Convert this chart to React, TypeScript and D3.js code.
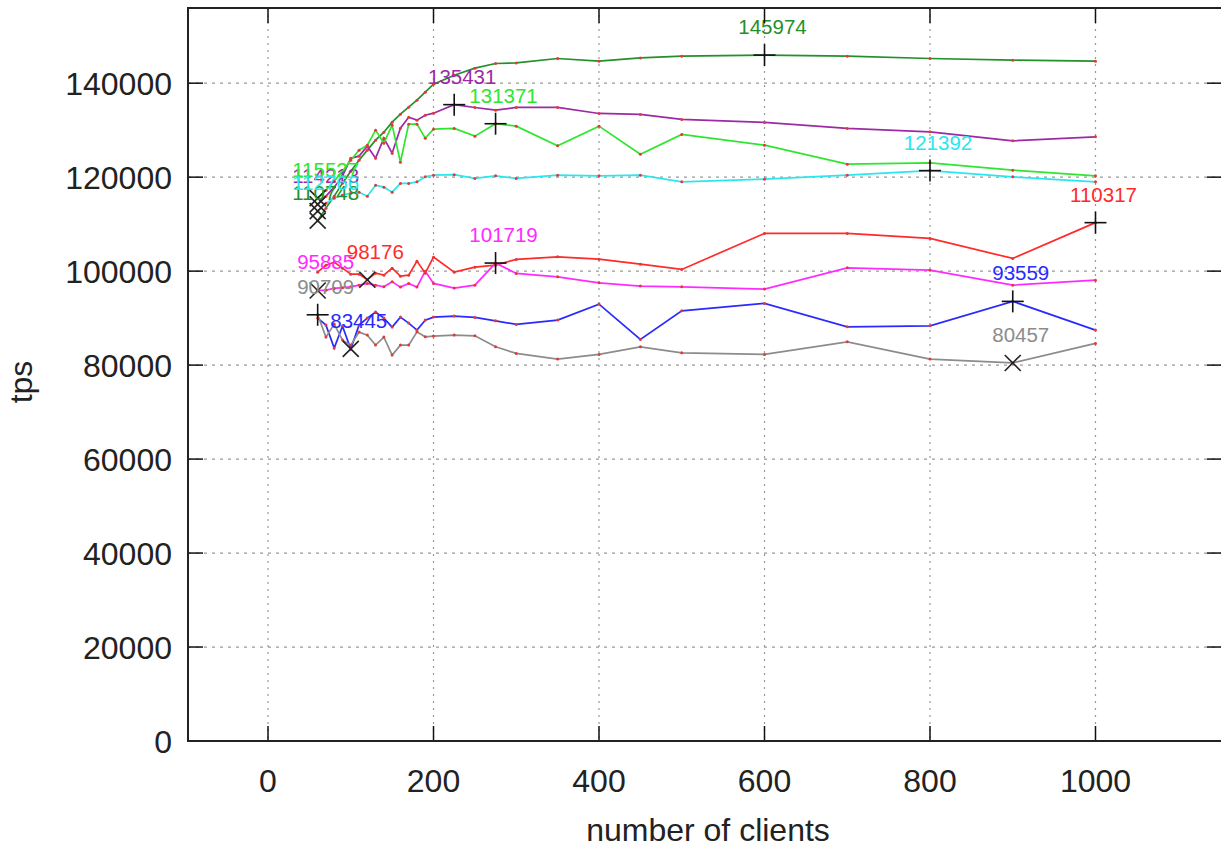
import React from "react";
import * as d3 from "d3";

const clients = [60, 70, 80, 90, 100, 110, 120, 130, 140, 150, 160, 170, 180, 190, 200, 225, 250, 275, 300, 350, 400, 450, 500, 600, 700, 800, 900, 1000];

const tpsDarkGreen = [110748, 113404, 115957, 118723, 121277, 123617, 125745, 127872, 129574, 131702, 133404, 134894, 136383, 138085, 139787, 141702, 143191, 144191, 144319, 145255, 144681, 145383, 145745, 145974, 145745, 145255, 144894, 144681];
const tpsPurple = [114213, 115957, 117872, 120213, 124043, 124468, 126596, 124043, 128298, 125106, 130426, 132766, 132128, 133191, 133617, 135431, 134830, 134255, 134830, 134830, 133553, 133340, 132277, 131638, 130362, 129638, 127723, 128574];
const tpsGreen = [115527, 117234, 119149, 121277, 123617, 125745, 126809, 130000, 127234, 131064, 123191, 131277, 131277, 128298, 130213, 130362, 128723, 131371, 130851, 126660, 130851, 124894, 129085, 126809, 122766, 123043, 121489, 120277];
const tpsCyan = [112766, 114468, 115532, 116170, 116596, 116809, 115957, 118298, 117872, 116809, 118660, 118660, 119000, 120064, 120426, 120532, 119723, 120277, 119723, 120426, 120277, 120426, 119000, 119574, 120426, 121392, 120064, 119000];
const tpsRed = [99787, 101277, 101915, 100638, 99362, 99362, 98176, 99574, 99149, 100638, 98936, 99149, 102128, 99574, 102979, 99787, 100851, 101277, 102489, 103043, 102553, 101489, 100362, 108021, 108021, 106957, 102702, 110317];
const tpsMagenta = [95885, 95957, 96319, 96489, 96660, 97021, 97383, 97021, 96660, 97723, 96596, 97383, 96596, 100000, 97383, 96383, 97021, 101719, 99511, 98787, 97511, 96809, 96660, 96170, 100702, 100213, 97021, 98085];
const tpsBlue = [90000, 88511, 83617, 88298, 83445, 88511, 90000, 91277, 90000, 88085, 90213, 88936, 87447, 89574, 90213, 90426, 90149, 89426, 88660, 89574, 92979, 85468, 91553, 93128, 88149, 88362, 93559, 87447];
const tpsGray = [90709, 85957, 88723, 85319, 84255, 87021, 86383, 84255, 85957, 82128, 84255, 84255, 87085, 86021, 86170, 86383, 86234, 83894, 82489, 81277, 82277, 83894, 82617, 82277, 84957, 81277, 80457, 84617];

const seriesValues = [tpsDarkGreen, tpsPurple, tpsGreen, tpsCyan, tpsRed, tpsMagenta, tpsBlue, tpsGray];
const seriesColors = ["#23902a", "#9c2aa6", "#2ee62e", "#2ae6ee", "#ff2a2a", "#ff2aff", "#2a2aff", "#8c8c8c"];

const xTicks = [0, 200, 400, 600, 800, 1000];
const yTicks = [0, 20000, 40000, 60000, 80000, 100000, 120000, 140000];

const W = 1221;
const H = 849;
const L = 188;
const R = 1224;
const T = 8;
const B = 741;

export default function App() {
  const x = d3.scaleLinear().domain([-96.7, 1155.3]).range([L, R]);
  const y = d3.scaleLinear().domain([0, 156000]).range([B, T]);
  const font = "'Liberation Sans', Arial, sans-serif";
  const tickLen = 15;
  const tickFont = 32;

  const line = d3
    .line<number>()
    .x((_, i) => x(clients[i]))
    .y((d) => y(d));

  const marks: React.ReactNode[] = [];
  const labels: React.ReactNode[] = [];
  seriesValues.forEach((vals, s) => {
    const maxI = d3.maxIndex(vals);
    const minI = d3.minIndex(vals);
    [
      { i: maxI, kind: "plus" },
      { i: minI, kind: "cross" },
    ].forEach(({ i, kind }) => {
      const px = x(clients[i]);
      const py = y(vals[i]);
      const k = `${s}-${kind}`;
      if (kind === "plus") {
        marks.push(
          <g key={k} stroke="#111" strokeWidth={1.6}>
            <line x1={px - 11} x2={px + 11} y1={py} y2={py} />
            <line x1={px} x2={px} y1={py - 11} y2={py + 11} />
          </g>
        );
      } else {
        marks.push(
          <g key={k} stroke="#222" strokeWidth={1.6}>
            <line x1={px - 8} x2={px + 8} y1={py - 8} y2={py + 8} />
            <line x1={px - 8} x2={px + 8} y1={py + 8} y2={py - 8} />
          </g>
        );
      }
      labels.push(
        <text key={k + "t"} x={px + 8} y={py - 21} textAnchor="middle" fontSize={20.5} fontFamily={font} fill={seriesColors[s]}>
          {String(vals[i])}
        </text>
      );
    });
  });

  return (
    <svg width={W} height={H} style={{ position: "absolute", left: 0, top: 0, background: "#fff" }}>
      <rect x={0} y={0} width={W} height={H} fill="#fff" />
      <defs>
        <clipPath id="plotclip">
          <rect x={L} y={T} width={R - L} height={B - T} />
        </clipPath>
      </defs>
      {/* grid */}
      {yTicks.slice(1).map((t) => (
        <line key={"gy" + t} x1={L} x2={R} y1={y(t)} y2={y(t)} stroke="#999" strokeWidth={1.2} strokeDasharray="3,5" />
      ))}
      {xTicks.map((t) => (
        <line key={"gx" + t} x1={x(t)} x2={x(t)} y1={T} y2={B} stroke="#999" strokeWidth={1.2} strokeDasharray="2,5" />
      ))}
      {/* series */}
      <g clipPath="url(#plotclip)">
        {seriesValues.map((vals, s) => (
          <path key={"l" + s} d={line(vals) || ""} fill="none" stroke={seriesColors[s]} strokeWidth={1.7} />
        ))}
        {seriesValues.map((vals, s) => (
          <g key={"p" + s}>
            {vals.map((v, i) => (
              <circle key={i} cx={x(clients[i])} cy={y(v)} r={1.5} fill="#e23a3a" />
            ))}
          </g>
        ))}
        {marks}
      </g>
      {labels}
      {/* ticks */}
      {yTicks.map((t) => (
        <g key={"ty" + t}>
          <line x1={L} x2={L + tickLen} y1={y(t)} y2={y(t)} stroke="#111" strokeWidth={1.5} />
          <line x1={R - tickLen - 2} x2={R} y1={y(t)} y2={y(t)} stroke="#111" strokeWidth={1.5} />
          <text x={L - 16} y={y(t)} dy="0.36em" textAnchor="end" fontSize={tickFont} fontFamily={font} fill="#222">
            {t}
          </text>
        </g>
      ))}
      {xTicks.map((t) => (
        <g key={"tx" + t}>
          <line x1={x(t)} x2={x(t)} y1={B} y2={B - tickLen} stroke="#111" strokeWidth={1.5} />
          <line x1={x(t)} x2={x(t)} y1={T} y2={T + tickLen} stroke="#111" strokeWidth={1.5} />
          <text x={x(t)} y={B + 39} dy="0.36em" textAnchor="middle" fontSize={tickFont} fontFamily={font} fill="#222">
            {t}
          </text>
        </g>
      ))}
      {/* frame */}
      <rect x={L} y={T} width={R - L} height={B - T} fill="none" stroke="#222" strokeWidth={2} />
      <text x={708} y={829} dy="0.36em" textAnchor="middle" fontSize={tickFont} fontFamily={font} fill="#222">
        number of clients
      </text>
      <text transform={`translate(20,382) rotate(-90)`} dy="0.36em" textAnchor="middle" fontSize={tickFont} fontFamily={font} fill="#222">
        tps
      </text>
    </svg>
  );
}
